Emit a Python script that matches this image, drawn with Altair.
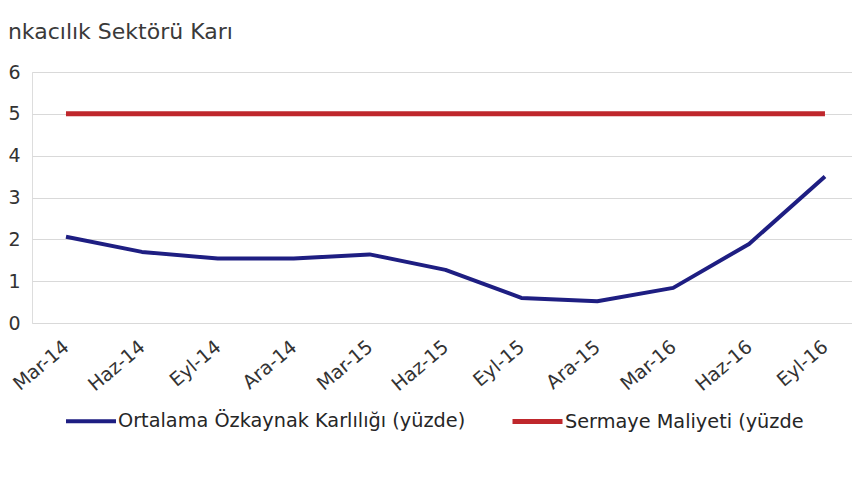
import altair as alt
import pandas as pd

months = ["Mar-14", "Haz-14", "Eyl-14", "Ara-14", "Mar-15", "Haz-15",
          "Eyl-15", "Ara-15", "Mar-16", "Haz-16", "Eyl-16"]
roe = [2.06, 1.70, 1.54, 1.54, 1.64, 1.27, 0.60, 0.52, 0.84, 1.89, 3.50]
cost = [5.0, 5.0, 5.0, 5.0, 5.0, 5.0, 5.0, 5.0, 5.0, 5.0, 5.0]
series_names = ["Ortalama Özkaynak Karlılığı (yüzde)", "Sermaye Maliyeti (yüzde"]
series_colors = ["#1E1E82", "#BF272C"]
series_widths = [4, 5]
y_ticks = [0, 1, 2, 3, 4, 5, 6]
title_text = "nkacılık Sektörü Karı"

rows = []
for m, a, b in zip(months, roe, cost):
    rows.append({"ay": m, "seri": series_names[0], "deger": a})
    rows.append({"ay": m, "seri": series_names[1], "deger": b})
df = pd.DataFrame(rows)

FONT = "DejaVu Sans"

chart = alt.Chart(df).mark_line(strokeCap="butt", strokeJoin="round").encode(
    x=alt.X("ay:N", sort=months,
            scale=alt.Scale(type="point", padding=0.402, align=0.557),
            axis=alt.Axis(title=None, labelAngle=-40, labelFont=FONT,
                          labelFontSize=19, labelColor="#333333",
                          labelPadding=21, grid=False, ticks=False,
                          domain=False, labelAlign="right",
                          labelBaseline="middle")),
    y=alt.Y("deger:Q",
            scale=alt.Scale(domain=[0, 6], nice=False, zero=True),
            axis=alt.Axis(title=None, values=y_ticks, labelFont=FONT,
                          labelFontSize=19, labelColor="#333333",
                          labelPadding=12, grid=True, gridColor="#D9D9D9",
                          gridWidth=1, ticks=False, domain=False)),
    color=alt.Color("seri:N",
                    scale=alt.Scale(domain=series_names, range=series_colors),
                    legend=alt.Legend(orient="none", legendX=32, legendY=322,
                                      direction="horizontal", title=None,
                                      symbolType="stroke", symbolSize=2500,
                                      symbolStrokeWidth=5, labelFont=FONT,
                                      labelFontSize=19.3, labelColor="#262626",
                                      columnPadding=36, labelOffset=0,
                                      padding=0, labelLimit=600)),
    strokeWidth=alt.StrokeWidth("seri:N",
                                scale=alt.Scale(domain=series_names,
                                                range=series_widths),
                                legend=None),
).properties(
    width=820,
    height=251,
    title=alt.TitleParams(title_text, anchor="start", dx=0, offset=2,
                          baseline="alphabetic", font=FONT, fontSize=22,
                          fontWeight="normal", color="#3A3A3A"),
    autosize=alt.AutoSizeParams(type="none"),
    padding={"left": 24, "top": 64, "right": 0, "bottom": 140},
).configure_view(stroke=None).configure(background="white")

chart.save("out.html", embed_options={"renderer": "svg", "actions": False})
